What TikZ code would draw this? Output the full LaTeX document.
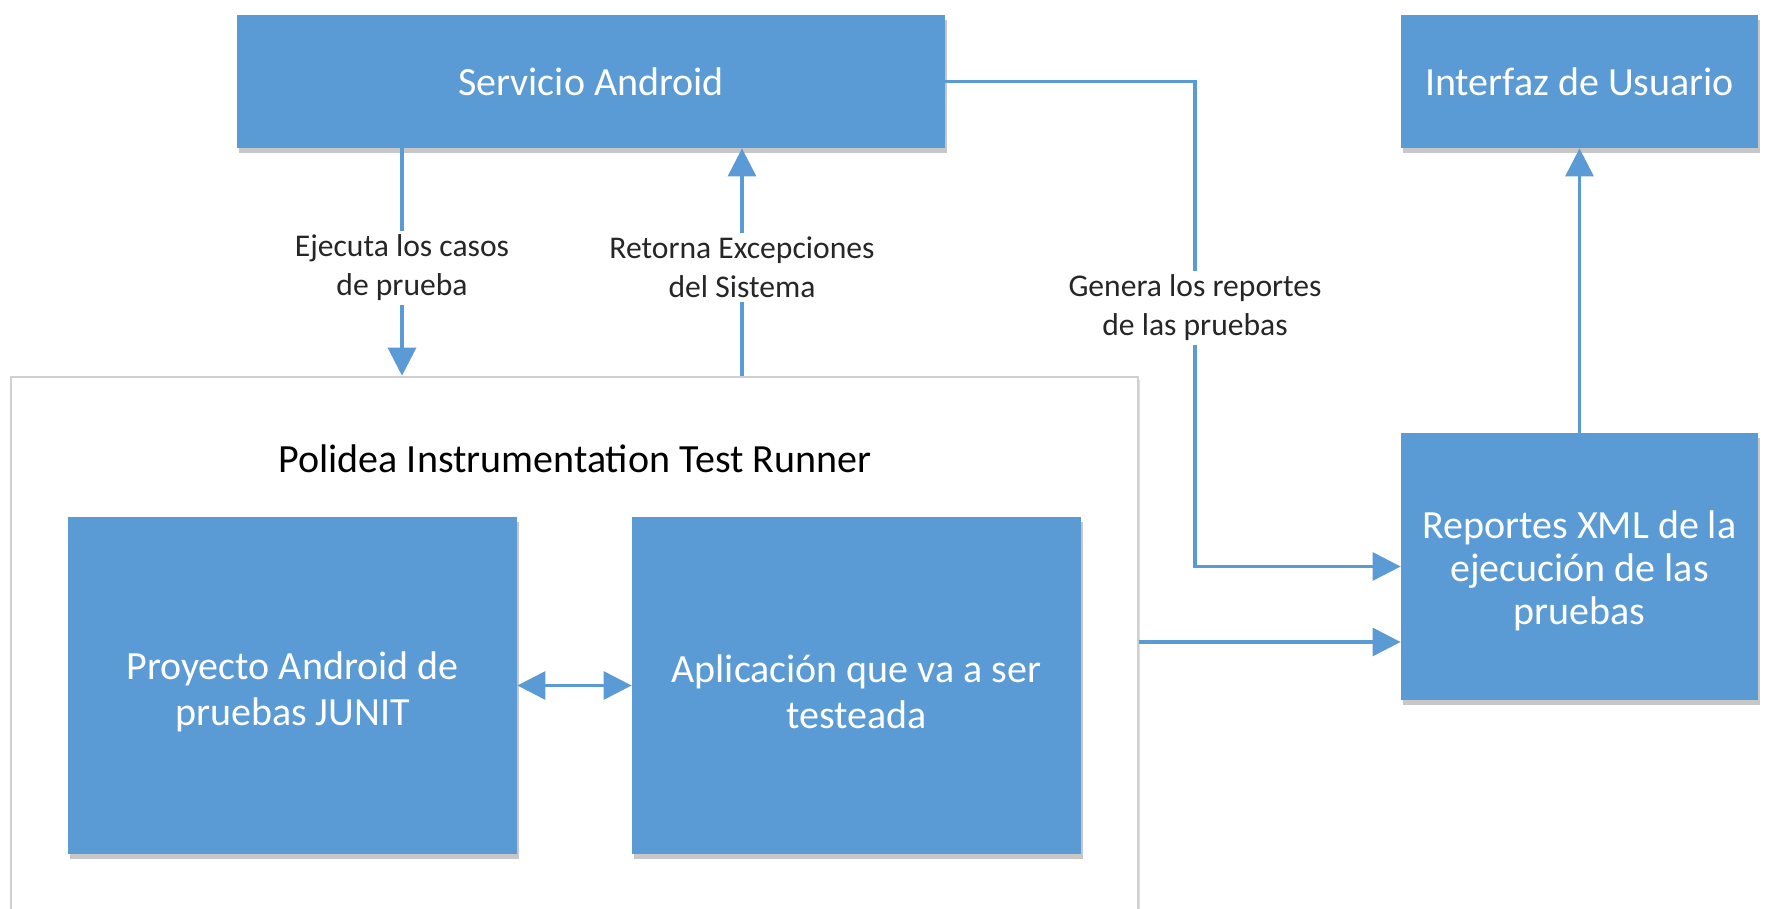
\documentclass[tikz,border=0pt]{standalone}
\usepackage{fontspec}
\setmainfont{Carlito}
\usetikzlibrary{arrows.meta,shadows}
\definecolor{boxblue}{RGB}{91,155,213}
\definecolor{txtgray}{RGB}{38,38,38}
\definecolor{framegray}{RGB}{208,208,208}
\tikzset{
  bluebox/.style={rectangle, fill=boxblue, draw=none, inner sep=0pt,
    drop shadow={shadow xshift=0.8pt, shadow yshift=-2.5pt, opacity=0.22, fill=black}},
  boxtext/.style={text=white, align=center, inner sep=0pt,
    font=\fontsize{20pt}{23pt}\selectfont},
  framebox/.style={rectangle, draw=framegray, line width=1.3pt, fill=white, inner sep=0pt,
    drop shadow={shadow xshift=0.8pt, shadow yshift=-1.5pt, opacity=0.12, fill=black}},
  conn/.style={draw=boxblue, line width=1.6pt, -{Triangle[length=14pt,width=14pt]}},
  biconn/.style={draw=boxblue, line width=1.6pt, {Triangle[length=14pt,width=14pt]}-{Triangle[length=14pt,width=14pt]}},
  lbl/.style={fill=white, text=txtgray, align=center, inner sep=2pt,
    font=\fontsize{15.8pt}{19.5pt}\selectfont},
  ttl/.style={text=black, font=\fontsize{20pt}{24pt}\selectfont, inner sep=0pt}
}
\begin{document}
\begin{tikzpicture}[x=0.5pt,y=-0.5pt]
\useasboundingbox (0,0) rectangle (1769,909);
% outer container
\node[framebox, minimum width=563.5pt, minimum height=281.5pt] (outer) at (574.5,658.5) {};
\node[ttl] (title) at (575,459) {Polidea Instrumentation Test Runner};
% boxes
\node[bluebox, minimum width=354pt, minimum height=66.5pt] (serv) at (591,81.5) {};
\node[boxtext] (servt) at (591,82) {Servicio Android};
\node[bluebox, minimum width=178.5pt, minimum height=66.5pt] (ui) at (1579.5,81.5) {};
\node[boxtext] (uit) at (1579.5,82) {Interfaz de Usuario};
\node[bluebox, minimum width=178.5pt, minimum height=133.5pt] (rep) at (1579.5,566.5) {};
\node[boxtext, font=\fontsize{20pt}{21.5pt}\selectfont] (rept) at (1579.5,571) {Reportes XML de la\\ejecución de las\\pruebas};
\node[bluebox, minimum width=224.5pt, minimum height=168.5pt] (proj) at (292.5,685.5) {};
\node[boxtext] (projt) at (292.5,692) {Proyecto Android de\\pruebas JUNIT};
\node[bluebox, minimum width=224.5pt, minimum height=168.5pt] (app) at (856.5,685.5) {};
\node[boxtext] (appt) at (856.5,692) {Aplicación que va a ser\\testeada};
% helper coordinates
\coordinate (ejx) at (402,0);
\coordinate (rex) at (742,0);
\coordinate (genx) at (1195,0);
\coordinate (outy) at (0,642);
% connectors
\draw[conn] (ejx |- serv.south) -- node[lbl, pos=0.525] {Ejecuta los casos\\de prueba} (ejx |- outer.north);
\draw[conn] (rex |- outer.north) -- node[lbl, pos=0.475] {Retorna Excepciones\\del Sistema} (rex |- serv.south);
\draw[conn] (serv.east) -- (genx |- serv.east) -- node[lbl, pos=0.467] {Genera los reportes\\de las pruebas} (genx |- rep.west) -- (rep.west);
\draw[conn] (outer.east |- outy) -- (rep.west |- outy);
\draw[conn] (rep.north) -- (ui.south);
\draw[biconn] (proj.east) -- (app.west);
\end{tikzpicture}
\end{document}
